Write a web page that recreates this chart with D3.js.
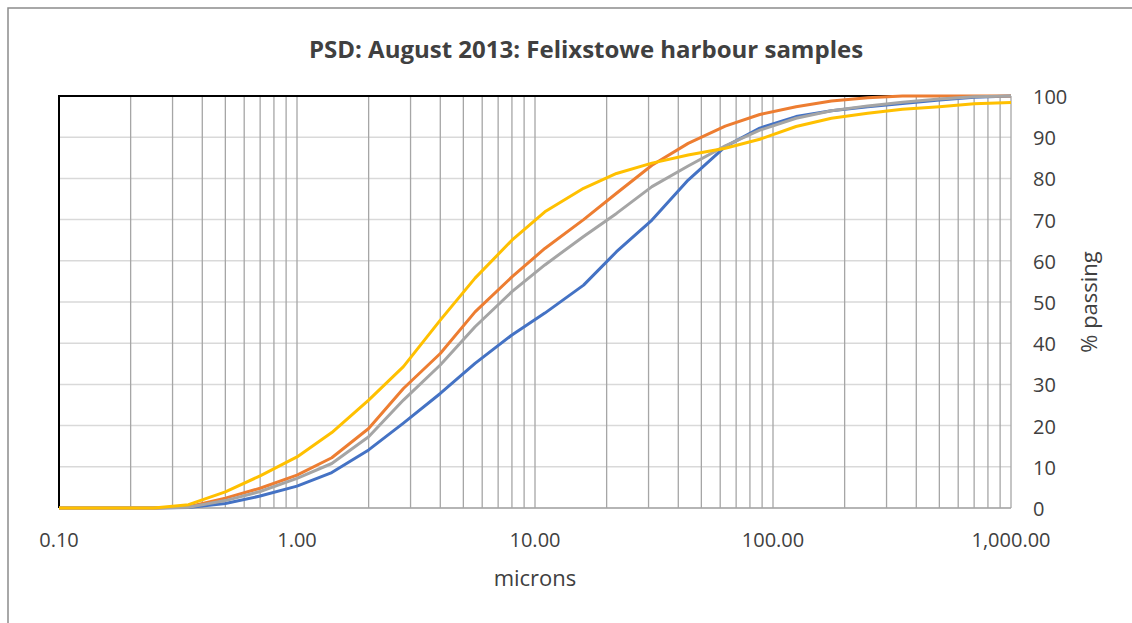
<!DOCTYPE html>
<html>
<head>
<meta charset="utf-8">
<script src="https://cdn.jsdelivr.net/npm/d3@7"></script>
<style>
  body { margin: 0; background: #fff; }
  text { font-family: "Open Sans", "Noto Sans", sans-serif; fill: #404040; }
</style>
</head>
<body>
<div id="chart"></div>
<script>
// ---------- DATA ----------
// particle size (microns) at each measured point
const SIZES = [0.1, 0.2, 0.25, 0.35, 0.5, 0.7, 1.0, 1.4, 2.0, 2.8, 4.0, 5.6, 8, 11, 16, 22, 31, 44, 63, 88, 125, 176, 250, 350, 500, 700, 1000];

// % passing for each sample
const BLUE   = [0, 0, 0, 0.1, 1.1, 2.9, 5.3, 8.6, 14.1, 20.6, 27.8, 35.1, 42.0, 47.3, 54.1, 62.2, 69.9, 79.6, 87.7, 92.2, 95.0, 96.4, 97.4, 98.2, 99.0, 99.7, 100];
const ORANGE = [0, 0, 0, 0.3, 2.4, 4.8, 8.0, 12.2, 19.3, 29.0, 37.5, 47.6, 56.1, 63.0, 70.0, 76.4, 83.2, 88.5, 92.7, 95.5, 97.4, 98.8, 99.6, 100, 100, 100, 100];
const GREY   = [0, 0, 0, 0.2, 1.8, 4.0, 7.2, 10.8, 17.3, 26.2, 34.7, 44.0, 52.5, 59.0, 65.9, 71.5, 78.0, 83.0, 87.9, 91.7, 94.6, 96.4, 97.6, 98.5, 99.3, 99.8, 100];
const YELLOW = [0, 0, 0, 0.8, 3.9, 7.8, 12.4, 18.3, 26.2, 34.3, 45.6, 55.8, 65.0, 71.9, 77.6, 81.2, 83.7, 85.7, 87.3, 89.5, 92.6, 94.6, 95.8, 96.8, 97.4, 98.1, 98.4];

const SERIES = [
  { name: "blue", values: BLUE, color: "#4472c4" },
  { name: "orange", values: ORANGE, color: "#ed7d31" },
  { name: "grey", values: GREY, color: "#a5a5a5" },
  { name: "yellow", values: YELLOW, color: "#ffc000" }
];

const X_TICKS = [0.1, 1, 10, 100, 1000];
const Y_TICKS = [0, 10, 20, 30, 40, 50, 60, 70, 80, 90, 100];

// ---------- SCAFFOLD ----------
const width = 1132, height = 623;
const plot = { left: 59, right: 1011, top: 96, bottom: 508 };

const svg = d3.select("#chart").append("svg")
  .attr("width", width)
  .attr("height", height);

// outer chart frame (only top/left visible in the crop)
svg.append("rect")
  .attr("x", 8).attr("y", 8)
  .attr("width", width + 20).attr("height", height + 20)
  .attr("fill", "none")
  .attr("stroke", "#8c8c8c")
  .attr("stroke-width", 1.5);

const x = d3.scaleLog()
  .domain([0.1, 1000])
  .range([plot.left, plot.right]);

const y = d3.scaleLinear()
  .domain([0, 100])
  .range([plot.bottom, plot.top]);

// ---------- GRID ----------
// horizontal gridlines
svg.append("g")
  .selectAll("line")
  .data(Y_TICKS)
  .join("line")
  .attr("x1", plot.left).attr("x2", plot.right)
  .attr("y1", d => y(d)).attr("y2", d => y(d))
  .attr("stroke", "#d9d9d9")
  .attr("stroke-width", 1.5);

// vertical gridlines on every log minor tick
const minor = x.ticks().filter(d => d >= 0.1 && d <= 1000);
svg.append("g")
  .selectAll("line")
  .data(minor)
  .join("line")
  .attr("x1", d => x(d)).attr("x2", d => x(d))
  .attr("y1", plot.top).attr("y2", plot.bottom)
  .attr("stroke", "#a6a6a6")
  .attr("stroke-width", 1.3);

// bottom axis line
svg.append("line")
  .attr("x1", plot.left).attr("x2", plot.right)
  .attr("y1", plot.bottom).attr("y2", plot.bottom)
  .attr("stroke", "#a6a6a6")
  .attr("stroke-width", 1.5);

// black top / left plot border
svg.append("path")
  .attr("d", `M${plot.left},${plot.bottom}V${plot.top}H${plot.right}`)
  .attr("fill", "none")
  .attr("stroke", "#000")
  .attr("stroke-width", 2);

// ---------- LINES ----------
const line = d3.line()
  .x((d, i) => x(SIZES[i]))
  .y(d => y(d));

svg.append("g")
  .selectAll("path")
  .data(SERIES)
  .join("path")
  .attr("d", d => line(d.values))
  .attr("fill", "none")
  .attr("stroke", d => d.color)
  .attr("stroke-width", 3)
  .attr("stroke-linejoin", "round");

// ---------- LABELS ----------
const fmt = d3.format(",.2f");

svg.append("g")
  .selectAll("text")
  .data(X_TICKS)
  .join("text")
  .attr("x", d => x(d))
  .attr("y", 547)
  .attr("text-anchor", "middle")
  .style("font-size", "20px")
  .text(d => fmt(d));

svg.append("g")
  .selectAll("text")
  .data(Y_TICKS)
  .join("text")
  .attr("x", 1033)
  .attr("y", d => y(d) + 8)
  .style("font-size", "20px")
  .text(d => d);

svg.append("text")
  .attr("x", 535)
  .attr("y", 586)
  .attr("text-anchor", "middle")
  .style("font-size", "22px")
  .text("microns");

svg.append("text")
  .attr("transform", `translate(1097,${(plot.top + plot.bottom) / 2}) rotate(-90)`)
  .attr("text-anchor", "middle")
  .style("font-size", "22px")
  .text("% passing");

svg.append("text")
  .attr("x", 586)
  .attr("y", 58)
  .attr("text-anchor", "middle")
  .style("font-size", "24px")
  .style("font-weight", "bold")
  .text("PSD: August 2013: Felixstowe harbour samples");
</script>
</body>
</html>
